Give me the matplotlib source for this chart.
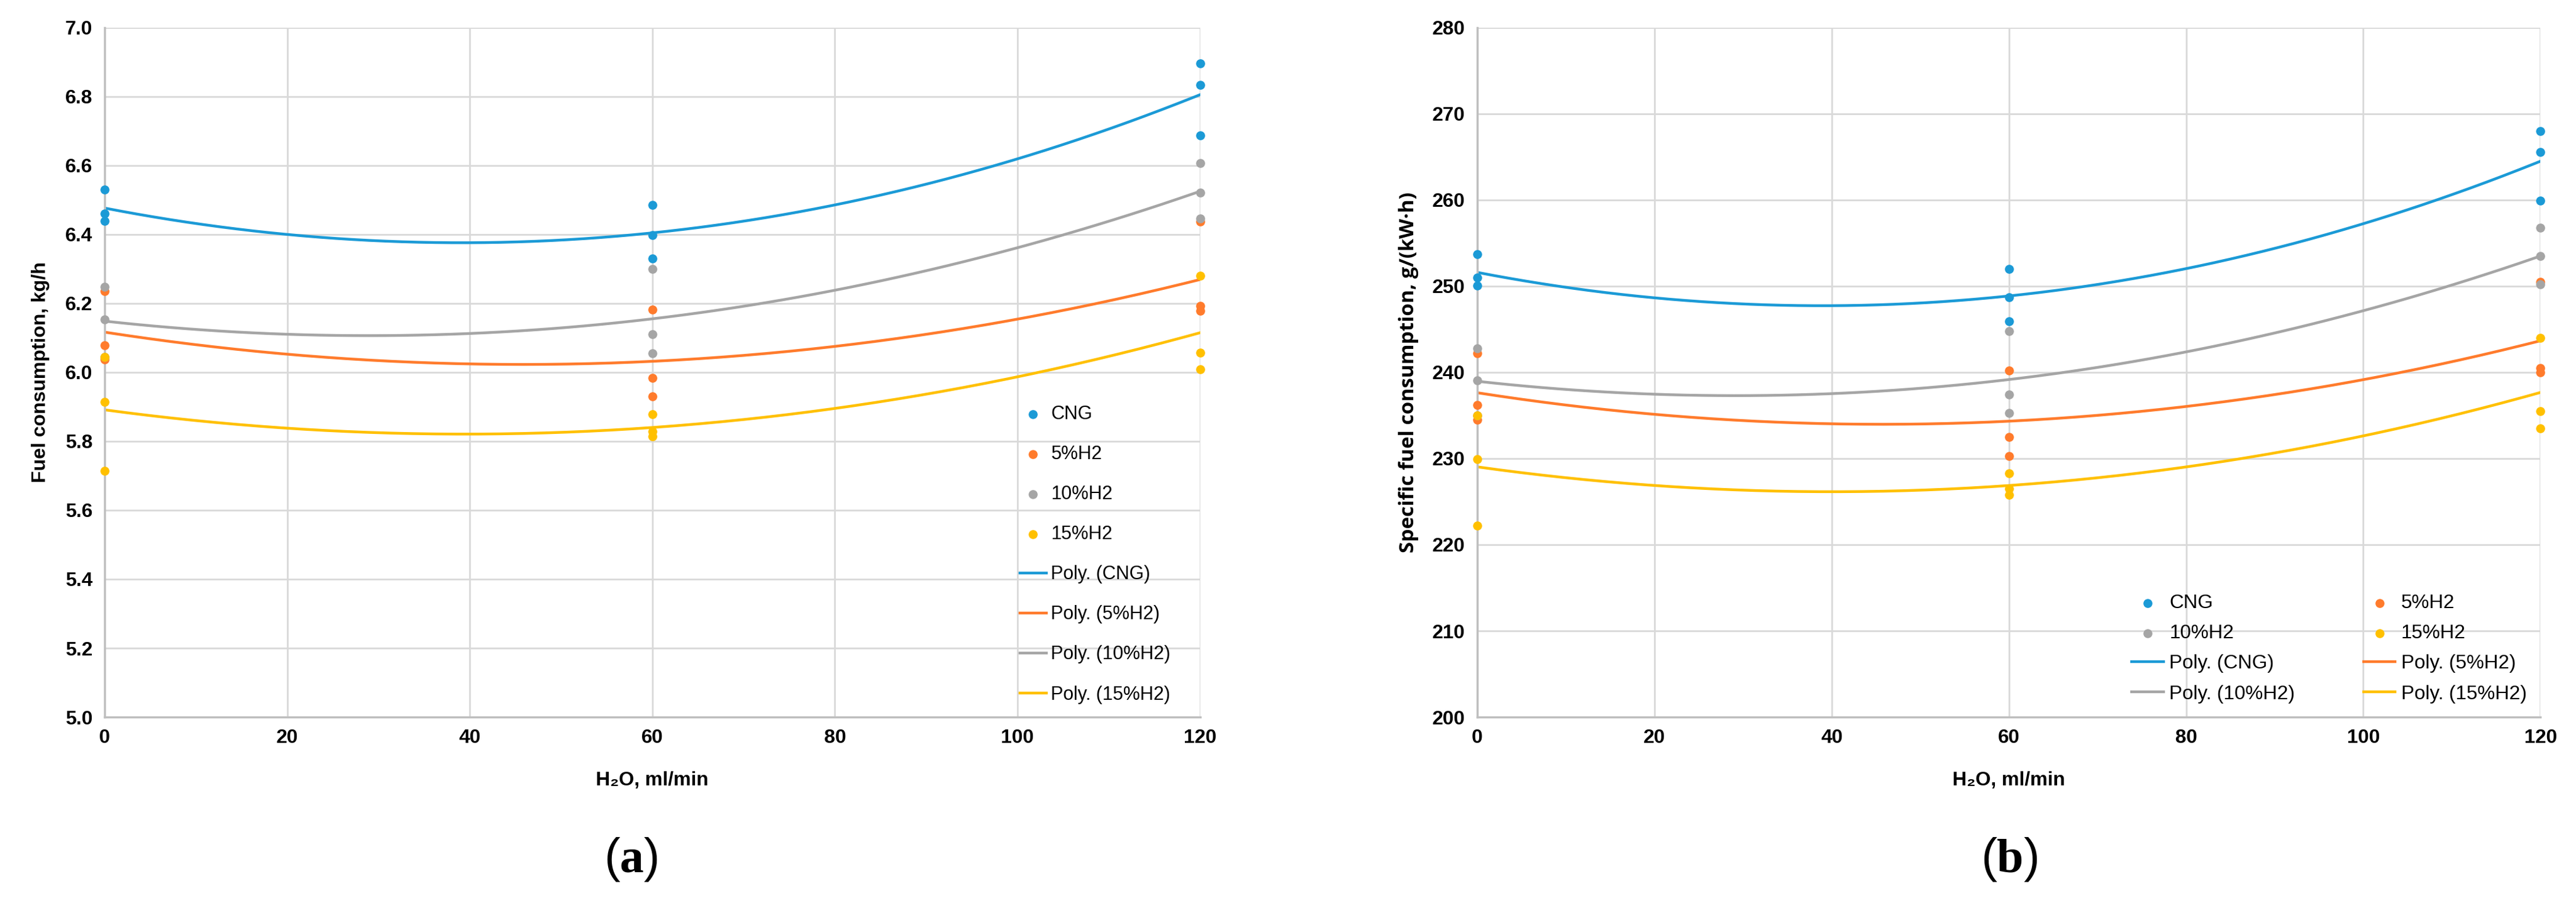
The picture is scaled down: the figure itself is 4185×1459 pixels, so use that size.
import numpy as np
import matplotlib.pyplot as plt

plt.rcParams['font.family'] = ['Liberation Sans', 'DejaVu Sans']
plt.rcParams['mathtext.fontset'] = 'custom'
plt.rcParams['mathtext.rm'] = 'Liberation Serif'
plt.rcParams['mathtext.bf'] = 'Liberation Serif:bold'

# water flow, ml/min (three repeats at each level)
h2o = [0, 60, 120]

# (a) fuel consumption, kg/h
fc_cng = [[6.53, 6.46, 6.44], [6.486, 6.398, 6.330], [6.896, 6.834, 6.687]]
fc_h5 = [[6.235, 6.078, 6.037], [6.182, 5.984, 5.930], [6.438, 6.192, 6.178]]
fc_h10 = [[6.248, 6.153, 6.045], [6.300, 6.111, 6.055], [6.607, 6.522, 6.447]]
fc_h15 = [[6.045, 5.914, 5.715], [5.878, 5.828, 5.814], [6.280, 6.057, 6.008]]

# (b) specific fuel consumption, g/(kW*h)
sfc_cng = [[253.7, 251.0, 250.1], [252.0, 248.7, 245.9], [268.0, 265.6, 259.9]]
sfc_h5 = [[242.2, 236.2, 234.5], [240.2, 232.5, 230.3], [250.5, 240.5, 240.0]]
sfc_h10 = [[242.8, 239.1, 235.0], [244.8, 237.4, 235.3], [256.8, 253.5, 250.2]]
sfc_h15 = [[235.0, 229.9, 222.2], [228.3, 226.5, 225.8], [244.0, 235.5, 233.5]]

names = ['CNG', '5%H2', '10%H2', '15%H2']
colors = ['#1B9AD6', '#FF7B2C', '#A5A5A5', '#FFC000']


def draw(ax, series):
    pts, lines = [], []
    xs = np.linspace(0, 120, 200)
    for vals, name, c in zip(series, names, colors):
        x = np.repeat(h2o, 3)
        y = np.array(vals).ravel()
        p = ax.scatter(x, y, s=90, color=c, zorder=3, clip_on=False, label=name)
        # 2nd order trend line, like Excel's "Poly." trendline
        k = np.polyfit(x, y, 2)
        l, = ax.plot(xs, np.polyval(k, xs), color=c, lw=3.2, zorder=2,
                     label='Poly. (' + name + ')')
        pts.append(p)
        lines.append(l)
    ax.set_xlim(0, 120)
    ax.set_xticks(range(0, 121, 20))
    ax.grid(True, color='#D9D9D9', lw=2)
    ax.set_axisbelow(True)
    for s in ['top', 'right']:
        ax.spines[s].set_visible(False)
    for s in ['left', 'bottom']:
        ax.spines[s].set_color('#BFBFBF')
        ax.spines[s].set_linewidth(2.5)
    ax.tick_params(length=0, labelsize=23, pad=14)
    ax.set_xlabel('H\u2082O, ml/min', fontsize=23, fontweight='bold', labelpad=28)
    return pts, lines


fig = plt.figure(figsize=(41.85, 14.59), dpi=100)
ax1 = fig.add_axes([0.0406, 0.2015, 0.4253, 0.7677])
ax2 = fig.add_axes([0.5735, 0.2015, 0.4127, 0.7677])

pts, lines = draw(ax1, [fc_cng, fc_h5, fc_h10, fc_h15])
ax1.set_ylim(5.0, 7.0)
ax1.set_yticks(np.arange(5.0, 7.01, 0.2))
ax1.yaxis.set_major_formatter(plt.FormatStrFormatter('%.1f'))
for t in ax1.get_xticklabels() + ax1.get_yticklabels():
    t.set_fontweight('bold')
ax1.set_ylabel('Fuel consumption, kg/h', fontsize=23, fontweight='bold', labelpad=18)
ax1.legend(pts + lines, [h.get_label() for h in pts + lines], loc='lower right',
           bbox_to_anchor=(0.985, 0.0), frameon=False, fontsize=22, labelspacing=1.15,
           handlelength=1.4, handletextpad=0.25, borderaxespad=0.3)

pts, lines = draw(ax2, [sfc_cng, sfc_h5, sfc_h10, sfc_h15])
ax2.set_ylim(200, 280)
ax2.set_yticks(range(200, 281, 10))
for t in ax2.get_xticklabels() + ax2.get_yticklabels():
    t.set_fontweight('bold')
ax2.set_ylabel('Specific fuel consumption, g/(kW\u00b7h)', fontsize=24,
               fontweight='bold', family=['Open Sans', 'DejaVu Sans'], labelpad=16)
order = [pts[0], pts[2], lines[0], lines[2], pts[1], pts[3], lines[1], lines[3]]
ax2.legend(order, [h.get_label() for h in order], loc='lower right', ncol=2,
           bbox_to_anchor=(1.0, 0.0), frameon=False, fontsize=23, labelspacing=0.6,
           handlelength=1.6, handletextpad=0.3, columnspacing=3.5, borderaxespad=0.3)

fig.text(0.245, 0.043, r'($\mathbf{a}$)', fontsize=56, ha='center', va='center')
fig.text(0.78, 0.043, r'($\mathbf{b}$)', fontsize=56, ha='center', va='center')

fig.savefig('out.png', dpi=100)
